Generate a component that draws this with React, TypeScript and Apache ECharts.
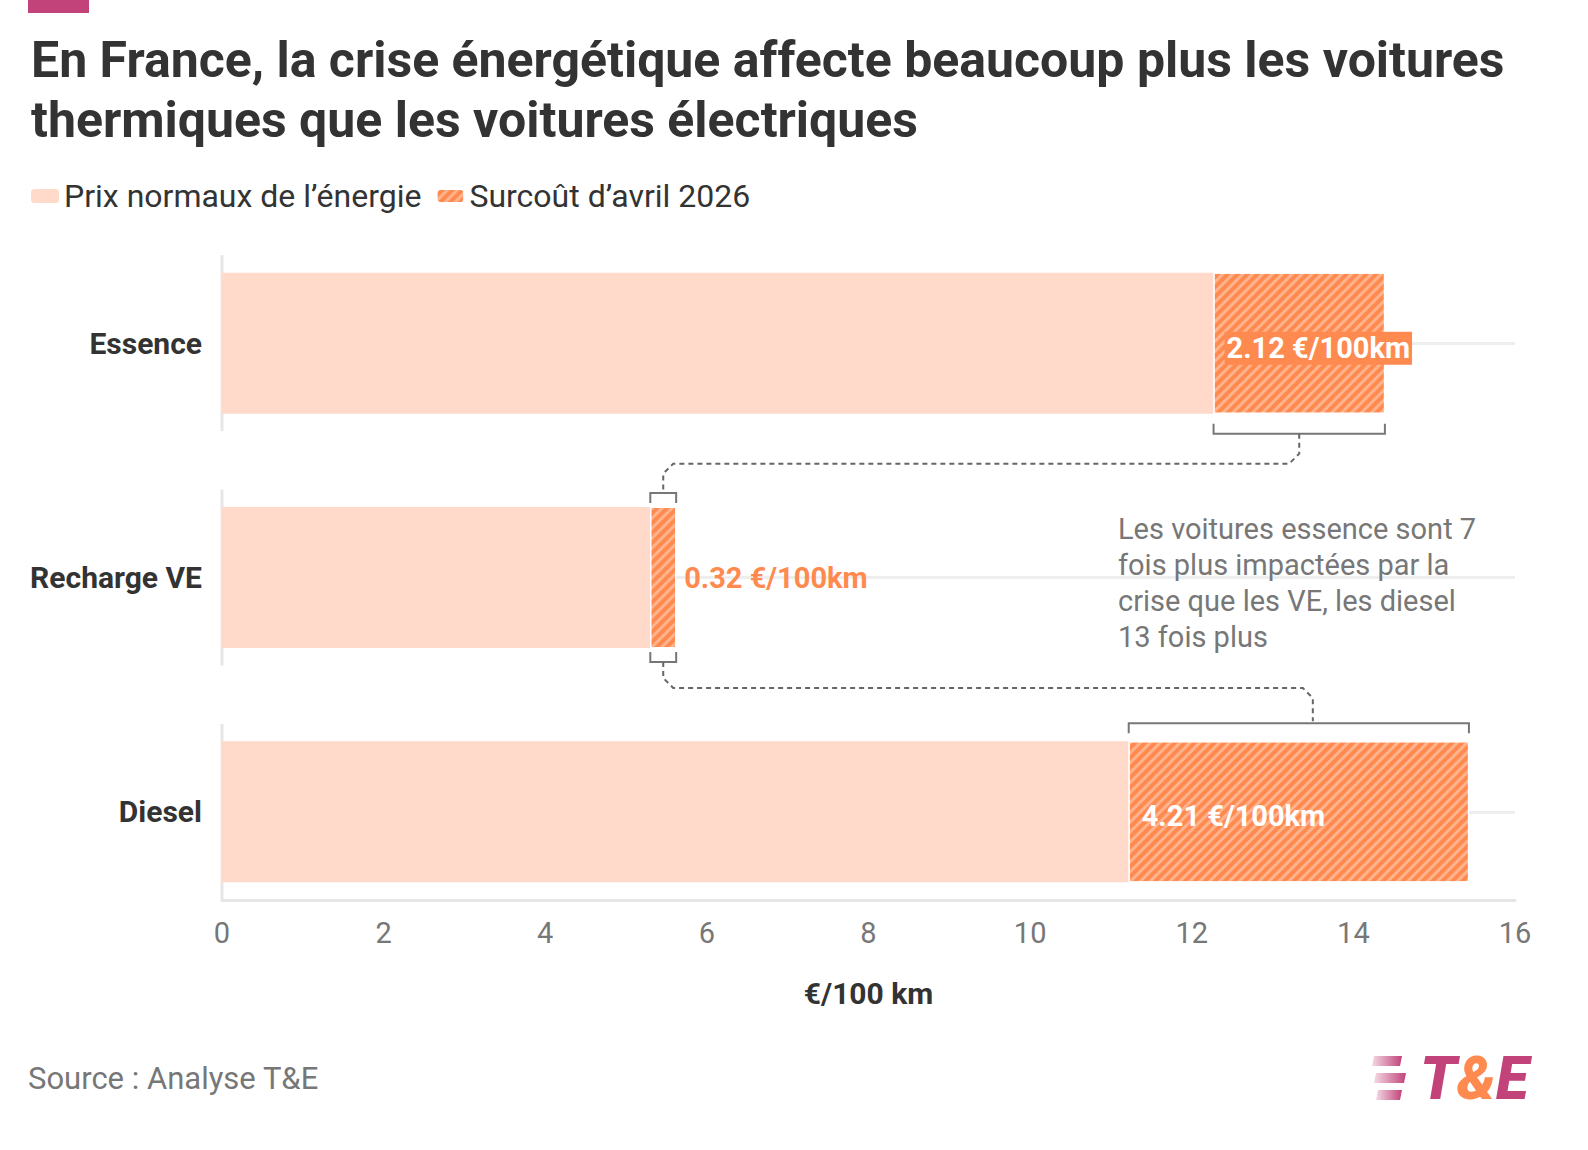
import { useEffect, useRef } from 'react';
import * as echarts from 'echarts';

const categories = ['Essence', 'Recharge VE', 'Diesel'];
const baseValues = [12.27, 5.3, 11.22];
const surcharge = [2.12, 0.32, 4.21];
const xTicks = [0, 2, 4, 6, 8, 10, 12, 14, 16];
const note = 'Les voitures essence sont 7\nfois plus impactées par la\ncrise que les VE, les diesel\n13 fois plus';

const PINK = '#c2437a';
const ORANGE = '#ff8a50';
const LIGHT = '#ffdacb';
const FONT = 'Roboto, sans-serif';

export default function App() {
    const ref = useRef<HTMLDivElement>(null);

    useEffect(() => {
        if (!ref.current) return;
        const chart = echarts.init(ref.current, undefined, { renderer: 'svg' });

        const option: any = {
            animation: false,
            textStyle: { fontFamily: FONT },
            title: {
                text: 'En France, la crise énergétique affecte beaucoup plus les voitures\nthermiques que les voitures électriques',
                left: 26, top: 25,
                textStyle: { fontSize: 50, fontWeight: 'bold', color: '#333', lineHeight: 60, fontFamily: FONT },
            },
            legend: {
                left: 26, top: 175,
                itemWidth: 28, itemHeight: 14, itemGap: 14,
                icon: 'roundRect',
                textStyle: { fontSize: 32, color: '#333', fontFamily: FONT },
                data: ['Prix normaux de l’énergie', 'Surcoût d’avril 2026'],
            },
            grid: { left: 222, right: 73, top: 226, height: 703 },
            xAxis: {
                type: 'value', min: 0, max: 16, interval: 2,
                offset: -29,
                axisLine: { show: true, lineStyle: { color: '#e6e6e6', width: 3 } },
                axisTick: { show: false },
                splitLine: { show: false },
                axisLabel: { fontSize: 29, color: '#777', margin: 18, formatter: (v: number) => xTicks.includes(v) ? String(v) : '' },
                name: '€/100 km', nameLocation: 'middle', nameGap: 78,
                nameTextStyle: { fontSize: 30, fontWeight: 'bold', color: '#333' },
            },
            yAxis: {
                type: 'category', data: categories, inverse: true,
                axisLine: { show: false }, axisTick: { show: false },
                axisLabel: { fontSize: 30, fontWeight: 'bold', color: '#333', margin: 20 },
            },
            series: [
                {
                    name: 'Prix normaux de l’énergie', type: 'bar', stack: 'a',
                    data: baseValues, barWidth: 141,
                    itemStyle: { color: LIGHT },
                    markLine: {
                        silent: true, symbol: 'none', z: 0,
                        lineStyle: { color: '#eeeeee', width: 3, type: 'solid' },
                        label: { show: false },
                        data: categories.map((c) => [{ coord: [0, c] }, { coord: [16, c] }]),
                    },
                },
                {
                    name: 'Surcoût d’avril 2026', type: 'bar', stack: 'a',
                    data: surcharge.map((v, i) => ({
                        value: v,
                        label: i === 1
                            ? { position: 'right', color: ORANGE, distance: 8 }
                            : { position: 'insideLeft', color: '#fff', offset: [6, i === 0 ? 5 : 4], backgroundColor: i === 0 ? ORANGE : 'transparent', padding: [2, 2] },
                    })),
                    itemStyle: {
                        color: ORANGE, borderColor: '#fff', borderWidth: 1,
                        decal: { symbol: 'rect', dashArrayX: [1, 0], dashArrayY: [3, 4], rotation: -Math.PI / 4, color: 'rgba(255,255,255,0.35)', symbolSize: 1 },
                    },
                    label: { show: true, fontSize: 29, fontWeight: 'bold', formatter: (p: any) => `${p.value} €/100km` },
                },
            ],
        };
        chart.setOption(option);

        const px = (x: number, c: number) => chart.convertToPixel({ gridIndex: 0 }, [x, c]) as number[];
        const half = 141 / 2;
        const g: any[] = [];
        const bracket = (x0: number, x1: number, y: number, dir: number) => {
            g.push({ type: 'polyline', shape: { points: [[x0, y - 10 * dir], [x0, y], [x1, y], [x1, y - 10 * dir]] }, style: { stroke: '#777', lineWidth: 2, fill: null } });
        };
        const yBar = (i: number) => px(0, i)[1];
        for (let i = 0; i < 3; i++) {
            g.push({ type: 'line', shape: { x1: 222, y1: yBar(i) - 88, x2: 222, y2: yBar(i) + 88 }, style: { stroke: '#e6e6e6', lineWidth: 3 } });
        }
        const e0 = px(baseValues[0], 0)[0], e1 = px(baseValues[0] + surcharge[0], 0)[0];
        const v0 = px(baseValues[1], 1)[0], v1 = px(baseValues[1] + surcharge[1], 1)[0];
        const d0 = px(baseValues[2], 2)[0], d1 = px(baseValues[2] + surcharge[2], 2)[0];
        const eb = yBar(0) + half + 20, vt = yBar(1) - half - 14, vb = yBar(1) + half + 14, dt = yBar(2) - half - 18;
        bracket(e0, e1, eb, 1);
        bracket(v0, v1, vt, -1);
        bracket(v0, v1, vb, 1);
        bracket(d0, d1, dt, -1);
        const dash = { stroke: '#666', lineWidth: 2, lineDash: [5, 4], fill: null };
        const em = (e0 + e1) / 2, vm = (v0 + v1) / 2, dm = (d0 + d1) / 2 + 14;
        const midA = eb + 30, midB = vb + 26;
        g.push({ type: 'polyline', shape: { points: [[em, eb], [em, midA - 10], [em - 10, midA], [vm + 10, midA], [vm, midA + 10], [vm, vt]] }, style: dash });
        g.push({ type: 'polyline', shape: { points: [[vm, vb], [vm, midB - 10], [vm + 10, midB], [dm - 10, midB], [dm, midB + 10], [dm, dt - 2]] }, style: dash });
        g.push({ type: 'text', left: 1118, top: 511, style: { text: note, fontSize: 29, lineHeight: 36, fill: '#777', fontFamily: FONT } });
        g.push({ type: 'rect', shape: { x: 28, y: 0, width: 61, height: 13 }, style: { fill: PINK } });
        g.push({ type: 'text', left: 28, top: 1063, style: { text: 'Source : Analyse T&E', fontSize: 31, fill: '#777', fontFamily: FONT } });
        const stripe = new echarts.graphic.LinearGradient(0, 0, 1, 0, [{ offset: 0, color: 'rgba(194,67,122,0.2)' }, { offset: 1, color: PINK }]);
        [1056, 1073, 1090].forEach((y, i) => {
            g.push({ type: 'polygon', shape: { points: [[1374 + i * 2, y], [1402 + (i === 1 ? 4 : 0), y], [1400 + (i === 1 ? 4 : 0), y + 10], [1372 + i * 2, y + 10]] }, style: { fill: stripe } });
        });
        g.push({
            type: 'text', left: 1420, top: 1048,
            style: {
                text: '{p|T}{o|&}{p|E}',
                rich: {
                    p: { fontSize: 60, fontWeight: 900, fontStyle: 'italic', fill: PINK, fontFamily: FONT },
                    o: { fontSize: 60, fontWeight: 900, fontStyle: 'italic', fill: ORANGE, fontFamily: FONT },
                },
            },
        });
        chart.setOption({ graphic: g });

        return () => chart.dispose();
    }, []);

    return <div ref={ref} style={{ width: 1588, height: 1150, position: 'absolute', left: 0, top: 0 }} />;
}
